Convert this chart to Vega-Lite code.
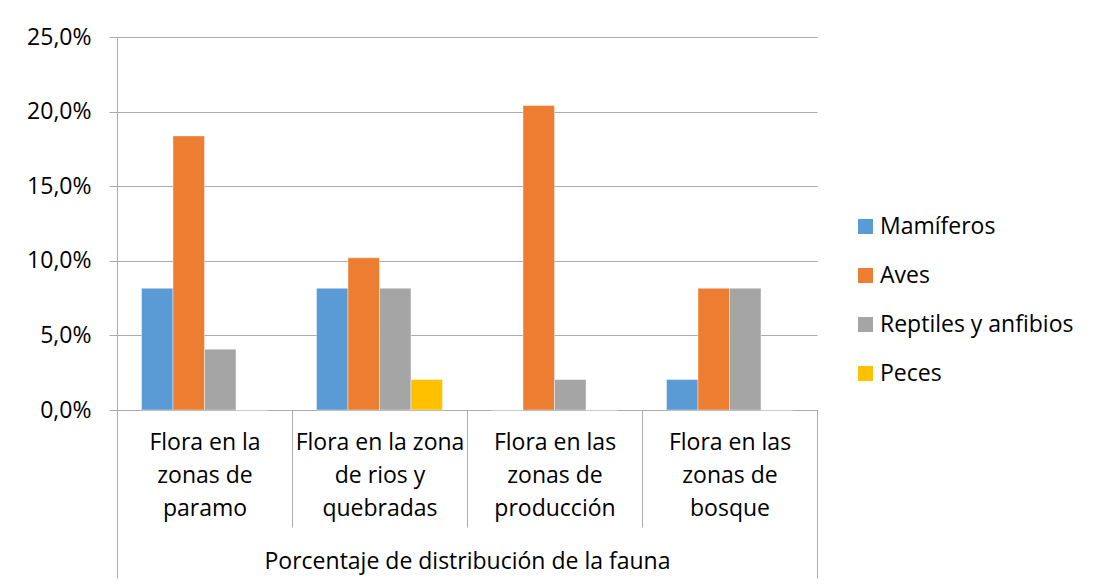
{
  "$schema": "https://vega.github.io/schema/vega-lite/v6.json",
  "width": 700,
  "height": 373,
  "autosize": {"type": "none"},
  "padding": {"left": 117, "top": 37, "right": 279, "bottom": 178},
  "background": "white",
  "data": {
    "values": [
      {"zona": "Flora en la zonas de paramo", "grupo": "Mamíferos", "pct": 0.0816},
      {"zona": "Flora en la zonas de paramo", "grupo": "Aves", "pct": 0.1837},
      {"zona": "Flora en la zonas de paramo", "grupo": "Reptiles y anfibios", "pct": 0.0408},
      {"zona": "Flora en la zonas de paramo", "grupo": "Peces", "pct": 0},
      {"zona": "Flora en la zona de rios y quebradas", "grupo": "Mamíferos", "pct": 0.0816},
      {"zona": "Flora en la zona de rios y quebradas", "grupo": "Aves", "pct": 0.102},
      {"zona": "Flora en la zona de rios y quebradas", "grupo": "Reptiles y anfibios", "pct": 0.0816},
      {"zona": "Flora en la zona de rios y quebradas", "grupo": "Peces", "pct": 0.0204},
      {"zona": "Flora en las zonas de producción", "grupo": "Mamíferos", "pct": 0},
      {"zona": "Flora en las zonas de producción", "grupo": "Aves", "pct": 0.2041},
      {"zona": "Flora en las zonas de producción", "grupo": "Reptiles y anfibios", "pct": 0.0204},
      {"zona": "Flora en las zonas de producción", "grupo": "Peces", "pct": 0},
      {"zona": "Flora en las zonas de bosque", "grupo": "Mamíferos", "pct": 0.0204},
      {"zona": "Flora en las zonas de bosque", "grupo": "Aves", "pct": 0.0816},
      {"zona": "Flora en las zonas de bosque", "grupo": "Reptiles y anfibios", "pct": 0.0816},
      {"zona": "Flora en las zonas de bosque", "grupo": "Peces", "pct": 0}
    ]
  },
  "mark": {"type": "bar", "stroke": "#ffffff", "strokeWidth": 0.6, "strokeOpacity": 0.7},
  "encoding": {
    "x": {
      "field": "zona",
      "type": "nominal",
      "sort": null,
      "scale": {"paddingInner": 0, "paddingOuter": 0},
      "axis": {
        "title": "Porcentaje de distribución de la fauna",
        "titleFont": "Open Sans",
        "titleFontSize": 23,
        "titleFontWeight": "normal",
        "titleColor": "#000000",
        "titleBaseline": "alphabetic",
        "titleY": 158,
        "labelAngle": 0,
        "labelFont": "Open Sans",
        "labelFontSize": 23,
        "labelColor": "#000000",
        "labelLineHeight": 33,
        "labelBaseline": "top",
        "labelPadding": -147,
        "labelExpr": "datum.label == 'Flora en la zonas de paramo' ? ['Flora en la', 'zonas de', 'paramo'] : datum.label == 'Flora en la zona de rios y quebradas' ? ['Flora en la zona', 'de rios y', 'quebradas'] : datum.label == 'Flora en las zonas de producción' ? ['Flora en las', 'zonas de', 'producción'] : datum.label == 'Flora en las zonas de bosque' ? ['Flora en las', 'zonas de', 'bosque'] : ''",
        "tickBand": "extent",
        "tickColor": "#ababab",
        "tickSize": 168,
        "tickDash": {"condition": {"test": "datum.value == 'Flora en la zona de rios y quebradas' || datum.value == 'Flora en las zonas de producción' || datum.index === 0", "value": [117, 100]}, "value": []},
        "domainColor": "#ababab",
        "labelLimit": 0
      }
    },
    "xOffset": {
      "field": "grupo",
      "type": "nominal",
      "sort": ["Mamíferos", "Aves", "Reptiles y anfibios", "Peces"],
      "scale": {"paddingInner": 0, "paddingOuter": 0.778}
    },
    "y": {
      "field": "pct",
      "type": "quantitative",
      "scale": {"domain": [0, 0.25]},
      "axis": {
        "title": null,
        "values": [0, 0.05, 0.1, 0.15, 0.2, 0.25],
        "labelExpr": "replace(format(datum.value, '.1%'), '.', ',')",
        "labelFont": "Open Sans",
        "labelFontSize": 23,
        "labelColor": "#000000",
        "labelPadding": 18,
        "tickSize": 8,
        "tickColor": "#ababab",
        "domainColor": "#ababab",
        "grid": true,
        "gridColor": "#ababab"
      }
    },
    "color": {
      "field": "grupo",
      "type": "nominal",
      "sort": ["Mamíferos", "Aves", "Reptiles y anfibios", "Peces"],
      "scale": {"domain": ["Mamíferos", "Aves", "Reptiles y anfibios", "Peces"], "range": ["#5B9BD5", "#ED7D31", "#A5A5A5", "#FFC000"]},
      "legend": {
        "title": null,
        "orient": "none",
        "legendX": 737,
        "legendY": 178,
        "symbolType": "square",
        "symbolSize": 225,
        "symbolStrokeWidth": 0,
        "labelFont": "Open Sans",
        "labelFontSize": 23,
        "labelColor": "#000000",
        "labelOffset": 3,
        "rowPadding": 25,
        "labelLimit": 0
      }
    }
  },
  "config": {"view": {"stroke": null}}
}
